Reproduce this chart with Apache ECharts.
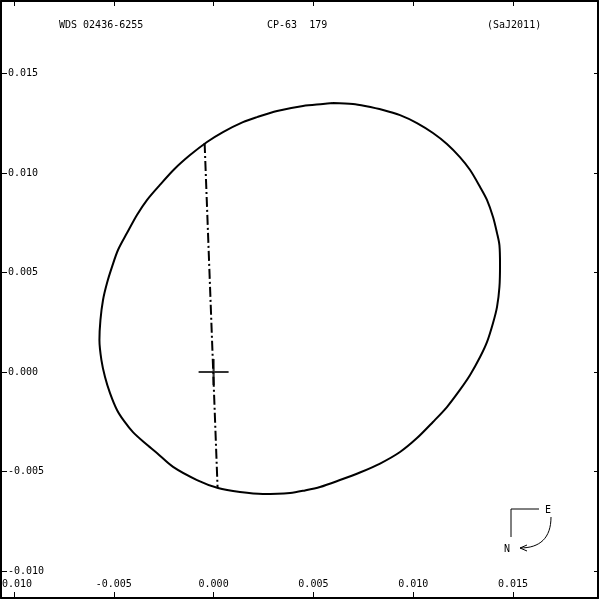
<!DOCTYPE html>
<html><head><meta charset="utf-8">
<script src="https://cdn.jsdelivr.net/npm/echarts@6/dist/echarts.min.js"></script>
<style>html,body{margin:0;padding:0;background:#fff}#c{width:600px;height:600px}</style>
</head><body><div id="c"></div>
<script>
// ---- data ----
const titleLeft = 'WDS 02436-6255';
const titleMid = 'CP-63  179';
const titleRight = '(SaJ2011)';
const xTicks = [-0.010, -0.005, 0.000, 0.005, 0.010, 0.015];
const yTicks = [-0.010, -0.005, 0.000, 0.005, 0.010, 0.015];
// apparent orbit (x, y), going round once
const orbitX = [0.00598, 0.00548, 0.00448, 0.00318, 0.00217, 0.00147, 0.00047, -0.00033, -0.00118, -0.00196,
  -0.00269, -0.00334, -0.00384, -0.00434, -0.00479, -0.00509, -0.00534, -0.00554, -0.00567, -0.00572,
  -0.00562, -0.00544, -0.00519, -0.00484, -0.00449, -0.00404, -0.00344, -0.00284, -0.00203, -0.00083,
  0.00022, 0.00132, 0.00247, 0.00383, 0.00458, 0.00533, 0.00633, 0.00733, 0.00834, 0.00934, 0.01019,
  0.01099, 0.01169, 0.01234, 0.01285, 0.01335, 0.01370, 0.01400, 0.01420, 0.01432, 0.01435,
  0.01432, 0.01420, 0.01400, 0.01370, 0.01335, 0.01285, 0.01234, 0.01169, 0.01099, 0.01019,
  0.00934, 0.00849, 0.00759, 0.00698, 0.00598];
const orbitY = [0.01352, 0.01347, 0.01337, 0.01312, 0.01281, 0.01256, 0.01206, 0.01156, 0.01090, 0.01020,
  0.00940, 0.00864, 0.00789, 0.00698, 0.00613, 0.00528, 0.00447, 0.00362, 0.00261, 0.00161,
  0.00060, -0.00025, -0.00106, -0.00191, -0.00246, -0.00302, -0.00357, -0.00407, -0.00477, -0.00543,
  -0.00583, -0.00603, -0.00613, -0.00608, -0.00595, -0.00578, -0.00543, -0.00505, -0.00460, -0.00402, -0.00332,
  -0.00251, -0.00176, -0.00090, -0.00015, 0.00075, 0.00151, 0.00246, 0.00327, 0.00427, 0.00538,
  0.00638, 0.00698, 0.00779, 0.00864, 0.00930, 0.01015, 0.01080, 0.01146, 0.01201, 0.01251,
  0.01291, 0.01317, 0.01337, 0.01347, 0.01352];
// line of nodes end points
const nodeX = [-0.00045, 0.0002];
const nodeY = [0.01151, -0.00583];
// primary star
const primary = [[0, 0]];

// ---- chart ----
const FONT = 'DejaVu Sans Mono';
const xMin = -0.010 - 13 / 19960, xMax = xMin + 597 / 19960;
const yMax = 371 / 19900, yMin = -226 / 19900;
const fmt = v => v.toFixed(3);

const orbitData = orbitX.map((x, i) => [x, orbitY[i]]);
const nodeData = nodeX.map((x, i) => [x, nodeY[i]]);

const chart = echarts.init(document.getElementById('c'), null, {renderer: 'canvas'});
const lineAxis = {show: true, onZero: false, lineStyle: {color: '#000', width: 2}};
const tStyle = {fontFamily: FONT, fontSize: 10, fontWeight: 'normal', color: '#000'};
chart.setOption({
  animation: false,
  backgroundColor: '#fff',
  title: [
    {text: titleLeft, left: 59, top: 20, padding: 0, textStyle: tStyle},
    {text: titleMid, left: 267, top: 20, padding: 0, textStyle: tStyle},
    {text: titleRight, left: 487, top: 20, padding: 0, textStyle: tStyle}
  ],
  grid: {left: 1, right: 2, top: 1, bottom: 2, containLabel: false, outerBoundsMode: 'none'},
  xAxis: [
    {type: 'value', position: 'bottom', min: xMin, max: xMax, axisLine: lineAxis, splitLine: {show: false},
     axisTick: {show: true, inside: true, length: 6, customValues: xTicks, lineStyle: {color: '#000', width: 1}},
     axisLabel: {show: true, inside: true, margin: 9, customValues: xTicks, formatter: fmt,
       fontFamily: FONT, fontSize: 10, color: '#000'}},
    {type: 'value', position: 'top', min: xMin, max: xMax, axisLine: lineAxis, splitLine: {show: false},
     axisTick: {show: true, inside: true, length: 5, customValues: xTicks, lineStyle: {color: '#000', width: 1}},
     axisLabel: {show: false}}
  ],
  yAxis: [
    {type: 'value', position: 'left', min: yMin, max: yMax, axisLine: lineAxis, splitLine: {show: false},
     axisTick: {show: true, inside: true, length: 6, customValues: yTicks, lineStyle: {color: '#000', width: 1}},
     axisLabel: {show: true, inside: true, margin: 7, customValues: yTicks, formatter: fmt,
       fontFamily: FONT, fontSize: 10, color: '#000'}},
    {type: 'value', position: 'right', min: yMin, max: yMax, axisLine: lineAxis, splitLine: {show: false},
     axisTick: {show: true, inside: true, length: 4, customValues: yTicks, lineStyle: {color: '#000', width: 1}},
     axisLabel: {show: false}}
  ],
  series: [
    {type: 'line', xAxisIndex: 0, yAxisIndex: 0, data: orbitData, smooth: 0.3, symbol: 'none',
     lineStyle: {color: '#000', width: 2}, silent: true},
    {type: 'line', xAxisIndex: 0, yAxisIndex: 0, data: nodeData, symbol: 'none',
     lineStyle: {color: '#000', width: 2, type: [10, 3, 2, 3]}, silent: true},
    {type: 'scatter', xAxisIndex: 0, yAxisIndex: 0, data: primary, symbol: 'path://M0,15L30,15M15,2L15,28',
     symbolSize: [30, 26], z: 5, itemStyle: {color: 'rgba(0,0,0,0)', borderColor: '#000', borderWidth: 2}, silent: true}
  ],
  graphic: [
    {type: 'polyline', shape: {points: [[511, 537], [511, 509], [539, 509]]}, style: {stroke: '#000', lineWidth: 1, fill: null}},
    {type: 'text', x: 545, y: 505, style: {text: 'E', font: '10px ' + FONT, fill: '#000'}},
    {type: 'text', x: 504, y: 544, style: {text: 'N', font: '10px ' + FONT, fill: '#000'}},
    {type: 'bezierCurve', shape: {x1: 551, y1: 517, cpx1: 551, cpy1: 538, cpx2: 540, cpy2: 548, x2: 520, y2: 548},
     style: {stroke: '#000', lineWidth: 1, fill: null}},
    {type: 'polyline', shape: {points: [[527, 545], [520, 548], [527, 551]]}, style: {stroke: '#000', lineWidth: 1, fill: null}}
  ]
});
</script></body></html>
